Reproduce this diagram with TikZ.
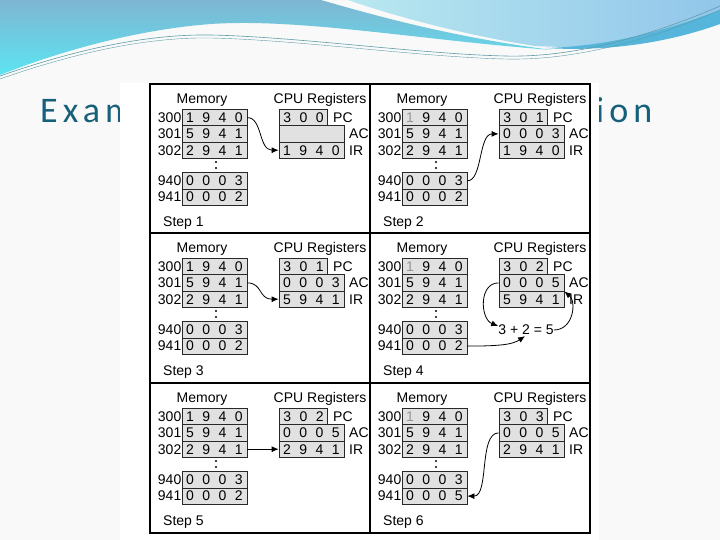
\documentclass[tikz,border=0pt]{standalone}
\usepackage{fontspec}
\setmainfont{Liberation Sans}
\newfontfamily\titlefont[LetterSpace=14]{Carlito}
\usetikzlibrary{arrows.meta}
\newcommand{\cells}[4]{\makebox[16.25pt]{#1}\makebox[16.25pt]{#2}\makebox[16.25pt]{#3}\makebox[16.25pt]{#4}}
\newcommand{\pcells}[3]{\makebox[16.25pt]{#1}\makebox[16.25pt]{#2}\makebox[16.25pt]{#3}}

\begin{document}
\begin{tikzpicture}[x=1pt,y=-1pt,
  memrow/.style={draw=cellLine, fill=cellFill, line width=0.8pt, minimum width=65pt,
    minimum height=16.3pt, inner sep=0pt, font=\fontsize{14}{15}\selectfont},
  pcrow/.style={memrow, minimum width=48.75pt},
  addr/.style={anchor=east, inner sep=0pt, font=\fontsize{14}{15}\selectfont},
  reglabel/.style={anchor=west, inner sep=0pt, font=\fontsize{14}{15}\selectfont},
  heading/.style={inner sep=0pt, font=\fontsize{14}{15}\selectfont},
  steplabel/.style={anchor=west, inner sep=0pt, font=\fontsize{14}{15}\selectfont},
  flow/.style={-{Latex[length=7pt,width=6pt]}, line width=0.8pt}]
% Colors
\definecolor{slideBack}{RGB}{249,249,249}
\definecolor{bandTop}{RGB}{126,182,210}
\definecolor{bandLow}{RGB}{92,228,242}
\definecolor{bandLight}{RGB}{184,232,240}
\definecolor{bandRight}{RGB}{146,198,234}
\definecolor{bandDeep}{RGB}{85,181,218}
\definecolor{waveLine}{RGB}{94,156,168}
\definecolor{titleColor}{RGB}{22,96,122}
\definecolor{cellFill}{RGB}{225,225,225}
\definecolor{cellLine}{RGB}{40,40,40}
\definecolor{fadedDigit}{RGB}{150,150,150}
\useasboundingbox (0,0) rectangle (720,540);
% Slide background and top waves
\fill[slideBack] (0,0) rectangle (720,540);
\shade[top color=bandTop, bottom color=bandLow]
  (0,0) -- (321,0) .. controls (390,20) and (460,38) .. (552,50)
  .. controls (420,40) and (300,18) .. (211,24)
  .. controls (130,30) and (50,55) .. (0,75) -- cycle;
\shade[left color=bandLight, right color=bandRight]
  (348,0) -- (720,0) -- (720,22) .. controls (670,40) and (610,50) .. (535,46)
  .. controls (470,36) and (400,18) .. (348,0) -- cycle;
\fill[bandDeep] (545,48) .. controls (620,46) and (680,25) .. (720,10)
  -- (720,24) .. controls (670,42) and (610,52) .. (545,48) -- cycle;
\draw[waveLine, line width=0.6pt]
  (0,76) .. controls (80,48) and (150,34) .. (211,35)
  .. controls (300,37) and (420,54) .. (505,56)
  .. controls (580,58) and (660,32) .. (720,6);
\draw[waveLine, line width=0.4pt]
  (0,79) .. controls (80,51) and (150,37) .. (211,38)
  .. controls (300,40) and (420,57) .. (505,59)
  .. controls (580,61) and (660,36) .. (720,10);
% Title (partly covered by the figure)
\node[anchor=base west, inner sep=0pt, text=titleColor,
  font=\titlefont\fontsize{36}{40}\selectfont] (title) at (40,123)
  {\hbox to 612pt{Example\hfill of\hfill Program\hfill Execution}};
\fill[white] (120,83) rectangle (599,540);
% Frame
\draw[line width=2.5pt] (150,84) rectangle (590,533);
\draw[line width=2.5pt] (370,84) -- (370,533);
\draw[line width=2.5pt] (150,233) -- (590,233);
\draw[line width=2.5pt] (150,383) -- (590,383);
% Step 1
\begin{scope}[shift={(150,84)}]
  \node[heading] (s1mem) at (52,16) {Memory};
  \node[heading] (s1cpu) at (170,16) {CPU Registers};
  \node[addr] (s1a300) at (31.5,33.6) {300};
  \node[addr] (s1a301) at (31.5,49.9) {301};
  \node[addr] (s1a302) at (31.5,66.2) {302};
  \node[addr] (s1a940) at (31.5,96.8) {940};
  \node[addr] (s1a941) at (31.5,113.1) {941};
  \node[memrow] (s1m300) at (64.5,33.6) {\cells{1}{9}{4}{0}};
  \node[memrow] (s1m301) at (64.5,49.9) {\cells{5}{9}{4}{1}};
  \node[memrow] (s1m302) at (64.5,66.2) {\cells{2}{9}{4}{1}};
  \node[memrow] (s1m940) at (64.5,96.8) {\cells{0}{0}{0}{3}};
  \node[memrow] (s1m941) at (64.5,113.1) {\cells{0}{0}{0}{2}};
  \fill (66,78) circle (1.1pt) (66,84) circle (1.1pt);
  \node[pcrow] (s1pc) at (153.4,33.6) {\pcells{3}{0}{0}};
  \node[memrow] (s1ac) at (161.5,49.9) {};
  \node[memrow] (s1ir) at (161.5,66.2) {\cells{1}{9}{4}{0}};
  \node[reglabel] (s1pcl) at (183,33.6) {PC};
  \node[reglabel] (s1acl) at (199,49.9) {AC};
  \node[reglabel] (s1irl) at (199,66.2) {IR};
  \node[steplabel] (s1step) at (13,139) {Step 1};
  \draw[flow] (s1m300.east) .. controls +(15,0) and +(-20,0) .. (s1ir.west);
\end{scope}
% Step 2
\begin{scope}[shift={(370,84)}]
  \node[heading] (s2mem) at (52,16) {Memory};
  \node[heading] (s2cpu) at (170,16) {CPU Registers};
  \node[addr] (s2a300) at (31.5,33.6) {300};
  \node[addr] (s2a301) at (31.5,49.9) {301};
  \node[addr] (s2a302) at (31.5,66.2) {302};
  \node[addr] (s2a940) at (31.5,96.8) {940};
  \node[addr] (s2a941) at (31.5,113.1) {941};
  \node[memrow] (s2m300) at (64.5,33.6) {\cells{\textcolor{fadedDigit}{1}}{9}{4}{0}};
  \node[memrow] (s2m301) at (64.5,49.9) {\cells{5}{9}{4}{1}};
  \node[memrow] (s2m302) at (64.5,66.2) {\cells{2}{9}{4}{1}};
  \node[memrow] (s2m940) at (64.5,96.8) {\cells{0}{0}{0}{3}};
  \node[memrow] (s2m941) at (64.5,113.1) {\cells{0}{0}{0}{2}};
  \fill (66,78) circle (1.1pt) (66,84) circle (1.1pt);
  \node[pcrow] (s2pc) at (153.4,33.6) {\pcells{3}{0}{1}};
  \node[memrow] (s2ac) at (161.5,49.9) {\cells{0}{0}{0}{3}};
  \node[memrow] (s2ir) at (161.5,66.2) {\cells{1}{9}{4}{0}};
  \node[reglabel] (s2pcl) at (183,33.6) {PC};
  \node[reglabel] (s2acl) at (199,49.9) {AC};
  \node[reglabel] (s2irl) at (199,66.2) {IR};
  \node[steplabel] (s2step) at (13,139) {Step 2};
  \draw[flow] (s2m940.east) .. controls +(15,0) and +(-20,0) .. (s2ac.west);
\end{scope}
% Step 3
\begin{scope}[shift={(150,233)}]
  \node[heading] (s3mem) at (52,16) {Memory};
  \node[heading] (s3cpu) at (170,16) {CPU Registers};
  \node[addr] (s3a300) at (31.5,33.6) {300};
  \node[addr] (s3a301) at (31.5,49.9) {301};
  \node[addr] (s3a302) at (31.5,66.2) {302};
  \node[addr] (s3a940) at (31.5,96.8) {940};
  \node[addr] (s3a941) at (31.5,113.1) {941};
  \node[memrow] (s3m300) at (64.5,33.6) {\cells{1}{9}{4}{0}};
  \node[memrow] (s3m301) at (64.5,49.9) {\cells{5}{9}{4}{1}};
  \node[memrow] (s3m302) at (64.5,66.2) {\cells{2}{9}{4}{1}};
  \node[memrow] (s3m940) at (64.5,96.8) {\cells{0}{0}{0}{3}};
  \node[memrow] (s3m941) at (64.5,113.1) {\cells{0}{0}{0}{2}};
  \fill (66,78) circle (1.1pt) (66,84) circle (1.1pt);
  \node[pcrow] (s3pc) at (153.4,33.6) {\pcells{3}{0}{1}};
  \node[memrow] (s3ac) at (161.5,49.9) {\cells{0}{0}{0}{3}};
  \node[memrow] (s3ir) at (161.5,66.2) {\cells{5}{9}{4}{1}};
  \node[reglabel] (s3pcl) at (183,33.6) {PC};
  \node[reglabel] (s3acl) at (199,49.9) {AC};
  \node[reglabel] (s3irl) at (199,66.2) {IR};
  \node[steplabel] (s3step) at (13,139) {Step 3};
  \draw[flow] (s3m301.east) .. controls +(15,0) and +(-20,0) .. (s3ir.west);
\end{scope}
% Step 4
\begin{scope}[shift={(370,233)}]
  \node[heading] (s4mem) at (52,16) {Memory};
  \node[heading] (s4cpu) at (170,16) {CPU Registers};
  \node[addr] (s4a300) at (31.5,33.6) {300};
  \node[addr] (s4a301) at (31.5,49.9) {301};
  \node[addr] (s4a302) at (31.5,66.2) {302};
  \node[addr] (s4a940) at (31.5,96.8) {940};
  \node[addr] (s4a941) at (31.5,113.1) {941};
  \node[memrow] (s4m300) at (64.5,33.6) {\cells{\textcolor{fadedDigit}{1}}{9}{4}{0}};
  \node[memrow] (s4m301) at (64.5,49.9) {\cells{5}{9}{4}{1}};
  \node[memrow] (s4m302) at (64.5,66.2) {\cells{2}{9}{4}{1}};
  \node[memrow] (s4m940) at (64.5,96.8) {\cells{0}{0}{0}{3}};
  \node[memrow] (s4m941) at (64.5,113.1) {\cells{0}{0}{0}{2}};
  \fill (66,78) circle (1.1pt) (66,84) circle (1.1pt);
  \node[pcrow] (s4pc) at (153.4,33.6) {\pcells{3}{0}{2}};
  \node[memrow] (s4ac) at (161.5,49.9) {\cells{0}{0}{0}{5}};
  \node[memrow] (s4ir) at (161.5,66.2) {\cells{5}{9}{4}{1}};
  \node[reglabel] (s4pcl) at (183,33.6) {PC};
  \node[reglabel] (s4acl) at (199,49.9) {AC};
  \node[reglabel] (s4irl) at (199,66.2) {IR};
  \node[heading] (s4sum) at (156,97) {3 + 2 = 5};
  \node[steplabel] (s4step) at (13,139) {Step 4};
  \draw[flow] (s4ac.west) .. controls +(-20,0) and +(-18,-7) .. ([yshift=4pt]s4sum.west);
  \draw[flow] (s4m941.east) .. controls +(35,0) and +(-12,8) .. ([xshift=-1pt,yshift=-1pt]s4sum.south);
  \draw[flow] (s4sum.east) .. controls +(20,0) and +(12,10) .. (s4ac.south east);
\end{scope}
% Step 5
\begin{scope}[shift={(150,383)}]
  \node[heading] (s5mem) at (52,16) {Memory};
  \node[heading] (s5cpu) at (170,16) {CPU Registers};
  \node[addr] (s5a300) at (31.5,33.6) {300};
  \node[addr] (s5a301) at (31.5,49.9) {301};
  \node[addr] (s5a302) at (31.5,66.2) {302};
  \node[addr] (s5a940) at (31.5,96.8) {940};
  \node[addr] (s5a941) at (31.5,113.1) {941};
  \node[memrow] (s5m300) at (64.5,33.6) {\cells{1}{9}{4}{0}};
  \node[memrow] (s5m301) at (64.5,49.9) {\cells{5}{9}{4}{1}};
  \node[memrow] (s5m302) at (64.5,66.2) {\cells{2}{9}{4}{1}};
  \node[memrow] (s5m940) at (64.5,96.8) {\cells{0}{0}{0}{3}};
  \node[memrow] (s5m941) at (64.5,113.1) {\cells{0}{0}{0}{2}};
  \fill (66,78) circle (1.1pt) (66,84) circle (1.1pt);
  \node[pcrow] (s5pc) at (153.4,33.6) {\pcells{3}{0}{2}};
  \node[memrow] (s5ac) at (161.5,49.9) {\cells{0}{0}{0}{5}};
  \node[memrow] (s5ir) at (161.5,66.2) {\cells{2}{9}{4}{1}};
  \node[reglabel] (s5pcl) at (183,33.6) {PC};
  \node[reglabel] (s5acl) at (199,49.9) {AC};
  \node[reglabel] (s5irl) at (199,66.2) {IR};
  \node[steplabel] (s5step) at (13,139) {Step 5};
  \draw[flow] (s5m302.east) -- (s5ir.west);
\end{scope}
% Step 6
\begin{scope}[shift={(370,383)}]
  \node[heading] (s6mem) at (52,16) {Memory};
  \node[heading] (s6cpu) at (170,16) {CPU Registers};
  \node[addr] (s6a300) at (31.5,33.6) {300};
  \node[addr] (s6a301) at (31.5,49.9) {301};
  \node[addr] (s6a302) at (31.5,66.2) {302};
  \node[addr] (s6a940) at (31.5,96.8) {940};
  \node[addr] (s6a941) at (31.5,113.1) {941};
  \node[memrow] (s6m300) at (64.5,33.6) {\cells{\textcolor{fadedDigit}{1}}{9}{4}{0}};
  \node[memrow] (s6m301) at (64.5,49.9) {\cells{5}{9}{4}{1}};
  \node[memrow] (s6m302) at (64.5,66.2) {\cells{2}{9}{4}{1}};
  \node[memrow] (s6m940) at (64.5,96.8) {\cells{0}{0}{0}{3}};
  \node[memrow] (s6m941) at (64.5,113.1) {\cells{0}{0}{0}{5}};
  \fill (66,78) circle (1.1pt) (66,84) circle (1.1pt);
  \node[pcrow] (s6pc) at (153.4,33.6) {\pcells{3}{0}{3}};
  \node[memrow] (s6ac) at (161.5,49.9) {\cells{0}{0}{0}{5}};
  \node[memrow] (s6ir) at (161.5,66.2) {\cells{2}{9}{4}{1}};
  \node[reglabel] (s6pcl) at (183,33.6) {PC};
  \node[reglabel] (s6acl) at (199,49.9) {AC};
  \node[reglabel] (s6irl) at (199,66.2) {IR};
  \node[steplabel] (s6step) at (13,139) {Step 6};
  \draw[flow] (s6ac.west) .. controls +(-20,0) and +(22,0) .. (s6m941.east);
\end{scope}
\end{tikzpicture}
\end{document}
